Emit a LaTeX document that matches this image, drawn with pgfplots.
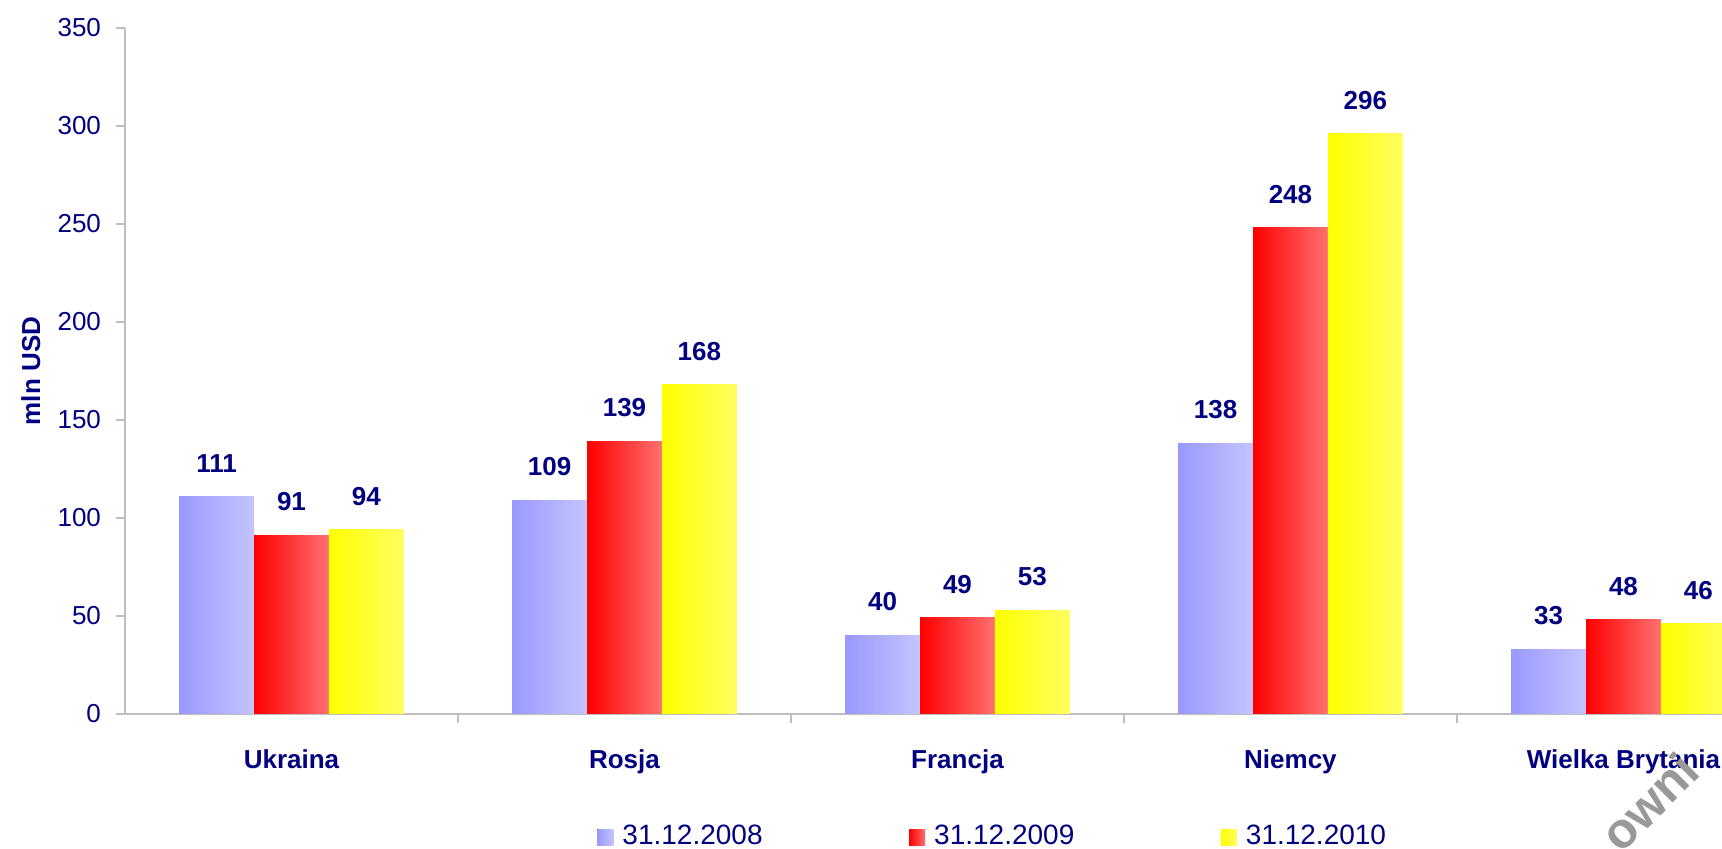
\documentclass[border=0pt]{standalone}
\usepackage{pgfplots}
\pgfplotsset{compat=1.18}
\usepackage{fontspec}
\setmainfont{Liberation Sans}
\definecolor{navy}{RGB}{0,0,128}
\definecolor{axgray}{RGB}{190,190,190}
\definecolor{b1}{RGB}{153,153,255}
\definecolor{b2}{RGB}{196,196,255}
\definecolor{r1}{RGB}{255,0,0}
\definecolor{r2}{RGB}{255,112,112}
\definecolor{y1}{RGB}{255,255,0}
\definecolor{y2}{RGB}{255,255,96}
\newcommand{\fs}{\fontsize{13}{15}\selectfont}
% one bar per \addplot, so that every bar gets its own gradient
\newcommand{\onebar}[4]{\addplot[draw=none, left color=#1, right color=#2, bar shift=#3, forget plot] coordinates {#4};}

\begin{document}
\begin{tikzpicture}
\begin{axis}[
    name=ax,
    scale only axis, width=798.5pt, height=343pt,
    xmin=-0.5, xmax=4.296, ymin=0, ymax=350,
    axis lines*=left,
    axis line style={axgray, line width=0.6pt},
    ytick={0,50,...,350},
    xtick={0,...,4},
    xticklabels={Ukraina,Rosja,Francja,Niemcy,Wielka Brytania},
    minor xtick={0.5,1.5,2.5,3.5},
    tick align=outside,
    major tick length=4.5pt, minor tick length=4.5pt,
    tick style={axgray, line width=0.6pt},
    major x tick style={draw=none},
    /pgf/number format/assume math mode=true,
    yticklabel style={font=\fs, text=navy, xshift=-4pt},
    xticklabel style={font=\fs\bfseries, text=navy, yshift=-10pt},
    ylabel={mln USD},
    every axis y label/.style={at={(axis description cs:-0.0589,0.5)}, rotate=90, anchor=center, font=\fs\bfseries, text=navy},
    ybar=0pt, bar width=0.225,
    nodes near coords,
    every node near coord/.append style={font=\fs\bfseries, text=navy, inner sep=0pt, anchor=south, yshift=12pt},
    legend columns=3,
    legend style={at={(axis description cs:0.2956,0)}, anchor=north west, yshift=-53.5pt,
        draw=none, fill=none, inner sep=0pt, font=\fontsize{14}{16}\selectfont, text=navy,
        /tikz/every odd column/.append style={column sep=2.5pt},
        /tikz/every even column/.append style={column sep=71.3pt}},
    legend image code/.code={\fill[#1,draw=none] (0pt,-4.3pt) rectangle (8pt,3.7pt);},
]
% 31.12.2008
\onebar{b1}{b2}{-0.225}{(0,111)}
\onebar{b1}{b2}{-0.225}{(1,109)}
\onebar{b1}{b2}{-0.225}{(2,40)}
\onebar{b1}{b2}{-0.225}{(3,138)}
\onebar{b1}{b2}{-0.225}{(4,33)}
% 31.12.2009
\onebar{r1}{r2}{0}{(0,91)}
\onebar{r1}{r2}{0}{(1,139)}
\onebar{r1}{r2}{0}{(2,49)}
\onebar{r1}{r2}{0}{(3,248)}
\onebar{r1}{r2}{0}{(4,48)}
% 31.12.2010
\onebar{y1}{y2}{0.225}{(0,94)}
\onebar{y1}{y2}{0.225}{(1,168)}
\onebar{y1}{y2}{0.225}{(2,53)}
\onebar{y1}{y2}{0.225}{(3,296)}
\onebar{y1}{y2}{0.225}{(4,46)}
\addlegendimage{left color=b1, right color=b2}
\addlegendentry{31.12.2008}
\addlegendimage{left color=r1, right color=r2}
\addlegendentry{31.12.2009}
\addlegendimage{left color=y1, right color=y2}
\addlegendentry{31.12.2010}
\end{axis}
% watermark fragment in the lower right corner
\node[rotate=45, text=black!40, font=\fontsize{25}{27}\selectfont\bfseries, anchor=center]
    at ([shift={(762pt,-44pt)}]ax.south west) {owni};
\pgfresetboundingbox
\path[use as bounding box] ([shift={(-62.5pt,-67.5pt)}]ax.south west) rectangle ([shift={(798.5pt,357pt)}]ax.south west);
\end{tikzpicture}
\end{document}
